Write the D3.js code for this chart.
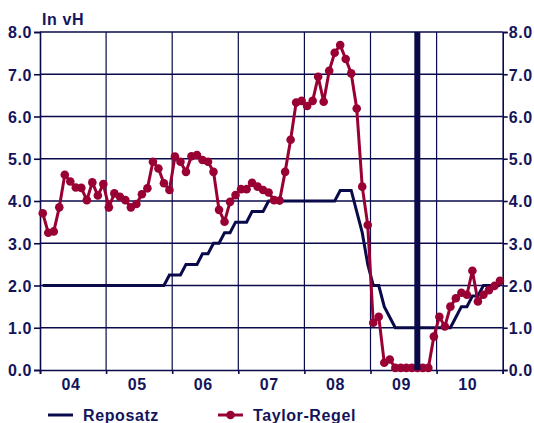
<!DOCTYPE html>
<html>
<head>
<meta charset="utf-8">
<script src="https://cdn.jsdelivr.net/npm/d3@7"></script>
<style>
  body { margin: 0; background: #fff; }
  text { font-family: "Liberation Sans", Arial, sans-serif; font-weight: bold; fill: #14145a; font-size: 16px; letter-spacing: 0.6px; }
</style>
</head>
<body>
<script>
var width = 534;
var height = 423;

// monthly values, Jan 2004 .. Dec 2010
var years = ['04', '05', '06', '07', '08', '09', '10'];
var yTicks = [0, 1, 2, 3, 4, 5, 6, 7, 8];

var reposatz = [
  2.0, 2.0, 2.0, 2.0, 2.0, 2.0, 2.0, 2.0, 2.0, 2.0, 2.0, 2.0,
  2.0, 2.0, 2.0, 2.0, 2.0, 2.0, 2.0, 2.0, 2.0, 2.0, 2.0, 2.25,
  2.25, 2.25, 2.5, 2.5, 2.5, 2.75, 2.75, 3.0, 3.0, 3.25, 3.25, 3.5,
  3.5, 3.5, 3.75, 3.75, 3.75, 4.0, 4.0, 4.0, 4.0, 4.0, 4.0, 4.0,
  4.0, 4.0, 4.0, 4.0, 4.0, 4.0, 4.25, 4.25, 4.25, 3.75, 3.25, 2.5,
  2.0, 2.0, 1.5, 1.25, 1.0, 1.0, 1.0, 1.0, 1.0, 1.0, 1.0, 1.0,
  1.0, 1.0, 1.0, 1.25, 1.5, 1.5, 1.75, 1.75, 2.0, 2.0, 2.0, 2.0
];

var taylor = [
  3.71, 3.25, 3.28, 3.85, 4.62, 4.46, 4.32, 4.31, 4.02, 4.44, 4.13, 4.40,
  3.85, 4.18, 4.10, 4.02, 3.85, 3.93, 4.16, 4.30, 4.93, 4.77, 4.42, 4.26,
  5.05, 4.93, 4.69, 5.06, 5.09, 4.97, 4.93, 4.69, 3.79, 3.51, 3.98, 4.14,
  4.28, 4.28, 4.43, 4.34, 4.26, 4.20, 4.02, 4.01, 4.69, 5.45, 6.33, 6.37,
  6.25, 6.37, 6.94, 6.35, 7.08, 7.51, 7.69, 7.36, 7.02, 6.19, 4.34, 3.43,
  1.12, 1.26, 0.17, 0.25, 0.05, 0.05, 0.05, 0.05, 0.05, 0.05, 0.05, 0.79,
  1.26, 1.03, 1.50, 1.70, 1.83, 1.78, 2.35, 1.62, 1.78, 1.89, 1.99, 2.11
];

var markerMonth = 68; // Sep 2009

var navy = '#0a0a4a';
var red = '#990033';

var svg = d3.select('body').append('svg')
  .attr('width', width)
  .attr('height', height);

var x = d3.scaleLinear().domain([0, 84]).range([40, 502.7]);
var y = d3.scaleLinear().domain([0, 8]).range([370, 32]);

// grid
svg.append('g').selectAll('line.h')
  .data(yTicks.slice(1))
  .enter().append('line')
  .attr('x1', x(0)).attr('x2', x(84))
  .attr('y1', d => y(d)).attr('y2', d => y(d))
  .attr('stroke', navy).attr('stroke-width', 1.3);

svg.append('g').selectAll('line.v')
  .data(d3.range(12, 84, 12))
  .enter().append('line')
  .attr('x1', d => x(d)).attr('x2', d => x(d))
  .attr('y1', y(0)).attr('y2', y(8))
  .attr('stroke', navy).attr('stroke-width', 1.2);

// axes
var fmt = d3.format('.1f');
var left = svg.append('g').attr('transform', 'translate(' + x(0) + ',0)')
  .call(d3.axisLeft(y).tickValues(yTicks).tickSize(6).tickPadding(2).tickFormat(fmt));
var right = svg.append('g').attr('transform', 'translate(' + x(84) + ',0)')
  .call(d3.axisRight(y).tickValues(yTicks).tickSize(5).tickPadding(1).tickFormat(fmt));
var bottom = svg.append('g').attr('transform', 'translate(0,' + y(0) + ')')
  .call(d3.axisBottom(x).tickValues(d3.range(0, 85, 12)).tickSize(4).tickFormat(''));

[left, right, bottom].forEach(function(g) {
  g.selectAll('path, line').attr('stroke', navy).attr('stroke-width', 1.6);
  g.selectAll('text').attr('fill', '#14145a').style('font-size', '16px')
    .attr('dy', '0.36em');
});

svg.append('g').selectAll('text')
  .data(years)
  .enter().append('text')
  .attr('x', (d, i) => x(i * 12 + 6) - 2)
  .attr('y', 389.5)
  .attr('text-anchor', 'middle')
  .text(d => d);

svg.append('text').attr('x', 42).attr('y', 25).text('In vH');

// Reposatz
var line = d3.line()
  .x((d, i) => x(i + 0.5))
  .y(d => y(d));

svg.append('path')
  .datum(reposatz)
  .attr('d', line)
  .attr('fill', 'none')
  .attr('stroke', navy)
  .attr('stroke-width', 3);

// Taylor-Regel
svg.append('path')
  .datum(taylor)
  .attr('d', line)
  .attr('fill', 'none')
  .attr('stroke', red)
  .attr('stroke-width', 3);

svg.append('g').selectAll('circle')
  .data(taylor)
  .enter().append('circle')
  .attr('cx', (d, i) => x(i + 0.5))
  .attr('cy', d => y(d))
  .attr('r', 4.3)
  .attr('fill', red);

// marker
svg.append('line')
  .attr('x1', x(markerMonth + 0.5)).attr('x2', x(markerMonth + 0.5))
  .attr('y1', y(8)).attr('y2', y(0))
  .attr('stroke', navy)
  .attr('stroke-width', 6);

// legend
var lg = svg.append('g');
lg.append('line').attr('x1', 48).attr('x2', 73).attr('y1', 415).attr('y2', 415)
  .attr('stroke', navy).attr('stroke-width', 3);
lg.append('text').attr('x', 83).attr('y', 421).text('Reposatz');
lg.append('line').attr('x1', 218).attr('x2', 243).attr('y1', 415).attr('y2', 415)
  .attr('stroke', red).attr('stroke-width', 3);
lg.append('circle').attr('cx', 230.5).attr('cy', 415).attr('r', 4.3).attr('fill', red);
lg.append('text').attr('x', 253).attr('y', 421).text('Taylor-Regel');
</script>
</body>
</html>
